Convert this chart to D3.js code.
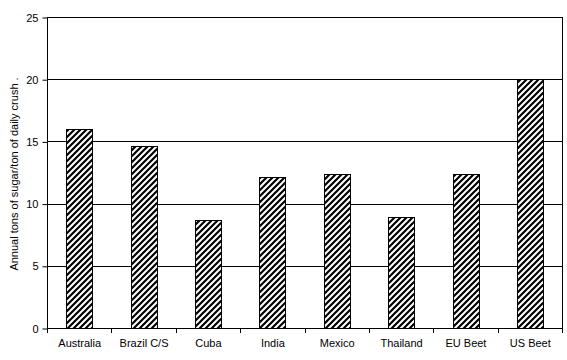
<!DOCTYPE html>
<html><head><meta charset="utf-8">
<script src="https://cdn.jsdelivr.net/npm/d3@7"></script>
<style>body{margin:0;background:#fff}svg{display:block}text{font-family:"Liberation Sans",Arial,sans-serif;font-size:11px;fill:#000}</style>
</head><body>
<script>
const categories = ["Australia","Brazil C/S","Cuba","India","Mexico","Thailand","EU Beet","US Beet"];
const values = [16.0, 14.6, 8.7, 12.1, 12.35, 8.9, 12.35, 20.0];
const yTicks = [0,5,10,15,20,25];
const yTitle = "Annual tons of sugar/ton of daily crush .";

const W=567,H=360, L=47, R=562, T=17, B=328;
const svg=d3.select("body").append("svg").attr("width",W).attr("height",H);
const defs=svg.append("defs");
const pat=defs.append("pattern").attr("id","hatch").attr("patternUnits","userSpaceOnUse")
  .attr("width",6).attr("height",6);
pat.append("rect").attr("width",6).attr("height",6).attr("fill","#fff");
pat.append("path").attr("d","M-1,7 L7,-1 M-4,4 L4,-4 M2,10 L10,2").attr("stroke","#000").attr("stroke-width",2.2);

const x=d3.scaleBand().domain(categories).range([L,R]).paddingInner(0.6).paddingOuter(0.3);
const xb=d3.scaleBand().domain(categories).range([L,R]).padding(0);
const y=d3.scaleLinear().domain([0,25]).range([B,T]);

// gridlines
svg.append("g").selectAll("line").data(yTicks.filter(d=>d>0&&d<25)).join("line")
  .attr("x1",L).attr("x2",R).attr("y1",d=>Math.round(y(d))+0.5).attr("y2",d=>Math.round(y(d))+0.5)
  .attr("stroke","#000").attr("stroke-width",1);

// bars
svg.append("g").selectAll("rect").data(categories).join("rect")
  .attr("x",d=>Math.round(x(d))+0.5).attr("y",(d,i)=>Math.round(y(values[i]))+0.5)
  .attr("width",Math.round(x.bandwidth())).attr("height",(d,i)=>Math.round(B-y(values[i])))
  .attr("fill","url(#hatch)").attr("stroke","#000").attr("stroke-width",1);

// frame
svg.append("rect").attr("x",L+0.5).attr("y",T+0.5).attr("width",R-L).attr("height",B-T)
  .attr("fill","none").attr("stroke","#000");

// y axis
const ya=svg.append("g").attr("transform",`translate(${L+0.5},0.5)`)
  .call(d3.axisLeft(y).tickValues(yTicks).tickSize(5).tickPadding(4).tickFormat(d3.format("d")));
ya.select(".domain").remove();
ya.selectAll("line").attr("stroke","#000");
ya.selectAll("text").style("font-size","11px").attr("font-family",null);

// x axis
const xa=svg.append("g").attr("transform",`translate(0.5,${B+0.5})`)
  .call(d3.axisBottom(xb).tickSize(0).tickPadding(11));
xa.select(".domain").remove();
xa.selectAll("text").attr("font-family",null).style("font-size","11px").attr("dy","0.71em");
const bounds=categories.map(c=>xb(c)).concat([xb(categories[categories.length-1])+xb.bandwidth()]);
svg.append("g").selectAll("line").data(bounds).join("line")
  .attr("x1",d=>Math.round(d)+0.5).attr("x2",d=>Math.round(d)+0.5).attr("y1",B).attr("y2",B+5)
  .attr("stroke","#000");

// y title
svg.append("text").attr("transform",`translate(18,174) rotate(-90)`).attr("text-anchor","middle").text(yTitle);
</script>
</body></html>
